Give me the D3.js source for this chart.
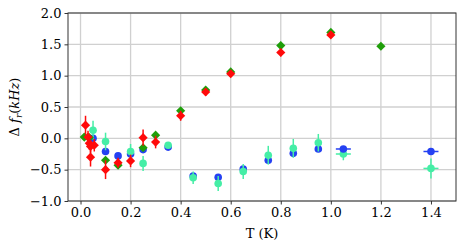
<!DOCTYPE html>
<html>
<head>
<meta charset="utf-8">
<script src="https://cdn.jsdelivr.net/npm/d3@7"></script>
<style>
  body { margin: 0; background: #fff; }
  svg text { font-family: "DejaVu Serif", serif; fill: #000; }
  .grid line { stroke: #d0d0d0; stroke-width: 1.3; }
</style>
</head>
<body>
<svg id="chart" width="467" height="248"></svg>
<script>
"use strict";

const width = 467;
const height = 248;
const margin = { top: 13, right: 11, bottom: 47, left: 68 };
const innerWidth = width - margin.left - margin.right;
const innerHeight = height - margin.top - margin.bottom;
const fontSize = 13;

// series: blue circles
const blueT = [0.05, 0.1, 0.15, 0.2, 0.25, 0.35, 0.45, 0.55, 0.65, 0.75, 0.85, 0.95];
const blueV = [0.0, -0.21, -0.28, -0.25, -0.18, -0.14, -0.60, -0.62, -0.49, -0.35, -0.24, -0.17];
const blueErr = [0.03, 0.03, 0.03, 0.03, 0.03, 0.03, 0.03, 0.03, 0.03, 0.03, 0.03, 0.03];
// series: aquamarine circles
const aquaT = [0.05, 0.1, 0.2, 0.25, 0.35, 0.45, 0.55, 0.65, 0.75, 0.85, 0.95];
const aquaV = [0.13, -0.05, -0.21, -0.40, -0.11, -0.63, -0.72, -0.53, -0.27, -0.16, -0.07];
const aquaErr = [0.15, 0.14, 0.12, 0.12, 0.05, 0.1, 0.12, 0.12, 0.15, 0.15, 0.14];
// high temperature points with horizontal error
const blueXT = [1.05, 1.4];
const blueXV = [-0.17, -0.21];
const blueXErr = [0.03, 0.03];
const aquaXT = [1.05, 1.4];
const aquaXV = [-0.25, -0.48];
const aquaXErr = [0.03, 0.03];
const aquaXYErr = [0.1, 0.16];
// series: green diamonds
const greenT = [0.015, 0.035, 0.1, 0.15, 0.25, 0.3, 0.4, 0.5, 0.6, 0.8, 1.0, 1.2];
const greenV = [0.02, 0.01, -0.35, -0.43, -0.15, 0.05, 0.44, 0.77, 1.06, 1.48, 1.69, 1.47];
// series: red diamonds
const redT = [0.02, 0.03, 0.035, 0.04, 0.055, 0.04, 0.1, 0.15, 0.2, 0.25, 0.3, 0.4, 0.5, 0.6, 0.8, 1.0];
const redV = [0.21, 0.02, -0.08, -0.13, -0.11, -0.30, -0.50, -0.39, -0.36, 0.01, -0.06, 0.36, 0.74, 1.03, 1.37, 1.65];
const redErr = [0.15, 0.1, 0.1, 0.1, 0.1, 0.15, 0.15, 0.08, 0.1, 0.13, 0.1, 0.08, 0.06, 0.05, 0.06, 0.05];

const xTicks = [0.0, 0.2, 0.4, 0.6, 0.8, 1.0, 1.2, 1.4];
const yTicks = [-1.0, -0.5, 0.0, 0.5, 1.0, 1.5, 2.0];

const colors = { blue: "#2541f2", aqua: "#45eea6", green: "#1f9e0a", red: "#ff0a0a" };

const xScale = d3.scaleLinear().domain([-0.05, 1.5]).range([0, innerWidth]);
const yScale = d3.scaleLinear().domain([-1.0, 2.0]).range([innerHeight, 0]);

const svg = d3.select("#chart");
const plot = svg.append("g").attr("transform", `translate(${margin.left},${margin.top})`);

// grid
plot.append("g").attr("class", "grid")
    .selectAll("line.v").data(xTicks).enter().append("line")
    .attr("x1", d => xScale(d)).attr("x2", d => xScale(d))
    .attr("y1", 0).attr("y2", innerHeight);
plot.append("g").attr("class", "grid")
    .selectAll("line.h").data(yTicks).enter().append("line")
    .attr("x1", 0).attr("x2", innerWidth)
    .attr("y1", d => yScale(d)).attr("y2", d => yScale(d));

const fmt = d => d3.format(".1f")(d).replace("-", "\u2212");

function drawAxis(g) {
    g.selectAll(".domain").remove();
    g.selectAll(".tick line").attr("stroke", "#000").attr("stroke-width", 0.8);
    g.selectAll(".tick text").attr("font-size", fontSize).attr("font-family", "DejaVu Serif");
}
plot.append("g")
    .attr("transform", `translate(0,${innerHeight})`)
    .call(d3.axisBottom(xScale).tickValues(xTicks).tickFormat(fmt).tickSize(3.5).tickPadding(3))
    .call(drawAxis);
plot.append("g")
    .call(d3.axisLeft(yScale).tickValues(yTicks).tickFormat(fmt).tickSize(3.5).tickPadding(3))
    .call(drawAxis);

function pts(T, V, yErr, xErr) {
    return T.map((t, i) => ({ t: t, v: V[i], ye: yErr ? yErr[i] : 0, xe: xErr ? xErr[i] : 0 }));
}

function drawSeries(data, color, shape) {
    const g = plot.append("g");
    g.selectAll("line.ye").data(data.filter(d => d.ye > 0)).enter().append("line")
        .attr("x1", d => xScale(d.t)).attr("x2", d => xScale(d.t))
        .attr("y1", d => yScale(d.v - d.ye)).attr("y2", d => yScale(d.v + d.ye))
        .attr("stroke", color).attr("stroke-width", 1.5);
    g.selectAll("line.xe").data(data.filter(d => d.xe > 0)).enter().append("line")
        .attr("x1", d => xScale(d.t - d.xe)).attr("x2", d => xScale(d.t + d.xe))
        .attr("y1", d => yScale(d.v)).attr("y2", d => yScale(d.v))
        .attr("stroke", color).attr("stroke-width", 1.5);
    if (shape === "circle") {
        g.selectAll("circle").data(data).enter().append("circle")
            .attr("cx", d => xScale(d.t)).attr("cy", d => yScale(d.v))
            .attr("r", 3.8).attr("fill", color);
    } else {
        const sym = d3.symbol().type(d3.symbolSquare).size(42);
        g.selectAll("path.mk").data(data).enter().append("path")
            .attr("d", sym)
            .attr("transform", d => `translate(${xScale(d.t)},${yScale(d.v)}) rotate(45)`)
            .attr("fill", color);
    }
}

drawSeries(pts(blueT, blueV, blueErr), colors.blue, "circle");
drawSeries(pts(aquaT, aquaV, aquaErr), colors.aqua, "circle");
drawSeries(pts(aquaXT, aquaXV, aquaXYErr, aquaXErr), colors.aqua, "circle");
drawSeries(pts(blueXT, blueXV, null, blueXErr), colors.blue, "circle");
drawSeries(pts(greenT, greenV), colors.green, "diamond");
drawSeries(pts(redT, redV, redErr), colors.red, "diamond");

// frame
plot.append("rect")
    .attr("width", innerWidth).attr("height", innerHeight)
    .attr("fill", "none").attr("stroke", "#333").attr("stroke-width", 1);

// labels
svg.append("text")
    .attr("x", margin.left + innerWidth / 2).attr("y", 238)
    .attr("text-anchor", "middle").attr("font-size", fontSize)
    .text("T (K)");

const yl = svg.append("text")
    .attr("transform", `translate(19,${margin.top + innerHeight / 2}) rotate(-90)`)
    .attr("text-anchor", "middle").attr("font-size", fontSize);
yl.append("tspan").text("\u0394 ");
yl.append("tspan").attr("font-style", "italic").text("f");
yl.append("tspan").attr("font-style", "italic").attr("font-size", 9).attr("dy", 2.5).text("r");
yl.append("tspan").attr("dy", -2.5).text("(");
yl.append("tspan").attr("font-style", "italic").text("kHz");
yl.append("tspan").text(")");
</script>
</body>
</html>
